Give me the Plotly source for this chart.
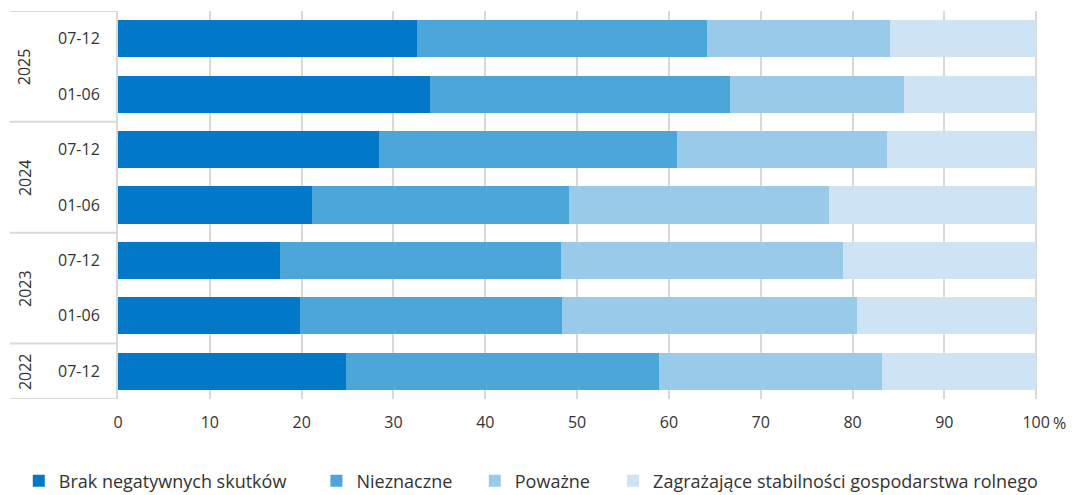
import plotly.graph_objects as go

years = ["2025", "2025", "2024", "2024", "2023", "2023", "2022"]
halves = ["07-12", "01-06", "07-12", "01-06", "07-12", "01-06", "07-12"]

series_names = [
    "Brak negatywnych skutków",
    "Nieznaczne",
    "Poważne",
    "Zagrażające stabilności gospodarstwa rolnego",
]
brak = [32.6, 34.0, 28.4, 21.1, 17.6, 19.8, 24.8]
nieznaczne = [31.5, 32.6, 32.5, 28.0, 30.7, 28.6, 34.1]
powazne = [20.0, 19.0, 22.9, 28.3, 30.7, 32.1, 24.3]
zagrazajace = [15.9, 14.4, 16.2, 22.6, 21.0, 19.5, 16.8]

x_ticks = [0, 10, 20, 30, 40, 50, 60, 70, 80, 90, 100]
x_ticktext = ["0", "10", "20", "30", "40", "50", "60", "70", "80", "90", "100"]

colors = ["#0279C8", "#4DA6D9", "#9ACAE9", "#CEE4F4"]
series = [brak, nieznaczne, powazne, zagrazajace]

FONT = "Open Sans, Noto Sans, sans-serif"
TXT = "#333333"
GRID = "#D9D9D9"

# the page body has an 8px margin; build the figure so that the
# plot area lands at page x 118..1036, y 11..399
OFF = 8
PAGE_W, PAGE_H = 1075, 495
plot_l, plot_w, plot_t, plot_h = 118, 918, 11, 388

ypos = list(range(len(halves)))

fig = go.Figure()
legend_ids = ["legend", "legend2", "legend3", "legend4"]
for name, vals, col, lg in zip(series_names, series, colors, legend_ids):
    fig.add_trace(go.Bar(
        y=ypos, x=vals, name=name, orientation="h",
        marker=dict(color=col, line=dict(width=0)),
        legend=lg,
    ))

leg_px = [19, 316, 474, 612]
leg_y = (plot_t + plot_h - 481) / plot_h
leg_common = dict(orientation="h", yanchor="middle", y=leg_y, xanchor="left",
                  font=dict(family=FONT, size=18, color=TXT),
                  bgcolor="rgba(0,0,0,0)", borderwidth=0)
layout_legends = {}
for lg, px in zip(legend_ids, leg_px):
    layout_legends[lg] = dict(x=(px - plot_l) / plot_w, **leg_common)

fig_w, fig_h = PAGE_W - OFF, PAGE_H - OFF
m_l = plot_l - OFF
m_t = plot_t - OFF
plot_w_full = plot_w * 100.2 / 100
m_r = fig_w - m_l - plot_w_full
m_b = fig_h - m_t - plot_h

fig.update_layout(
    barmode="stack",
    bargap=0.33,
    width=fig_w, height=fig_h,
    margin=dict(l=m_l, r=m_r, t=m_t, b=m_b, pad=0, autoexpand=False),
    paper_bgcolor="white", plot_bgcolor="white",
    font=dict(family=FONT, size=16, color=TXT),
    showlegend=True,
    **layout_legends,
)

fig.update_xaxes(
    range=[0, 100.2],
    tickvals=x_ticks, ticktext=x_ticktext,
    showgrid=True, gridcolor=GRID, gridwidth=2,
    zeroline=False, showline=False,
    ticks="", ticklabelstandoff=12,
    tickfont=dict(family=FONT, size=16, color=TXT),
    automargin=False,
)
fig.update_yaxes(
    range=[len(halves) - 0.5, -0.5],
    tickvals=ypos, ticktext=halves,
    showgrid=False, zeroline=False,
    showline=True, linecolor=GRID, linewidth=2,
    ticks="", ticklabelstandoff=13,
    tickfont=dict(family=FONT, size=16, color=TXT),
    automargin=False,
)

# year group labels and dividers
groups = []
for i, yv in enumerate(years):
    if not groups or groups[-1][0] != yv:
        groups.append([yv, i, i])
    else:
        groups[-1][2] = i

div_x0 = (10 - plot_l) / plot_w
year_x = (25 - plot_l) / plot_w
bounds = set()
for yv, i0, i1 in groups:
    fig.add_annotation(
        x=year_x, xref="paper", y=(i0 + i1) / 2, yref="y",
        text=yv, textangle=-90, showarrow=False,
        font=dict(family=FONT, size=16, color=TXT),
        xanchor="center", yanchor="middle",
    )
    bounds.add(i0 - 0.5)
    bounds.add(i1 + 0.5)
for b in sorted(bounds):
    fig.add_shape(type="line", xref="paper", yref="y",
                  x0=div_x0, x1=0, y0=b, y1=b,
                  line=dict(color=GRID, width=2))

# percent sign after the last tick label
fig.add_annotation(
    x=x_ticks[-1], xref="x", y=-24 / plot_h, yref="paper",
    text="%", showarrow=False, xanchor="left", yanchor="middle",
    xshift=15, font=dict(family=FONT, size=16, color=TXT),
)

fig.write_html("out.html")
